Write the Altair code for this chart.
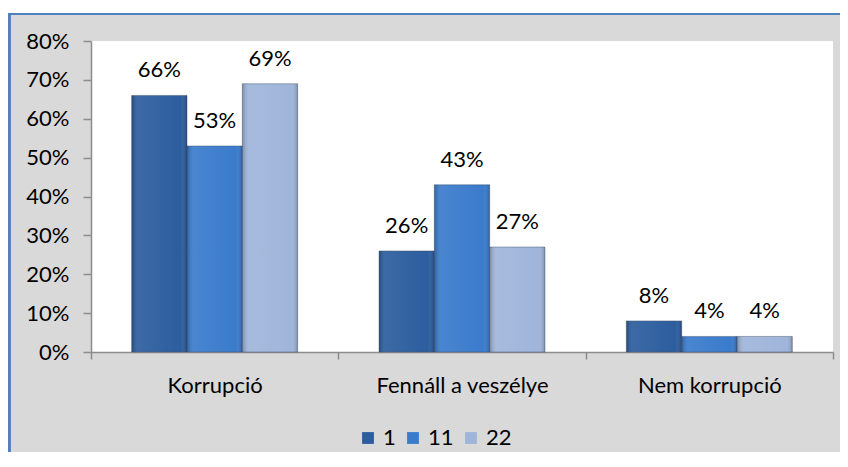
import altair as alt
import pandas as pd

categories = ["Korrupció", "Fennáll a veszélye", "Nem korrupció"]
series = ["1", "11", "22"]
values_1 = [0.66, 0.26, 0.08]
values_11 = [0.53, 0.43, 0.04]
values_22 = [0.69, 0.27, 0.04]
y_ticks = [0, 0.1, 0.2, 0.3, 0.4, 0.5, 0.6, 0.7, 0.8]
colors = ["#2c5d9e", "#3a7bcc", "#9fb5da"]

rows = []
for s, vals in zip(series, [values_1, values_11, values_22]):
    for c, v in zip(categories, vals):
        rows.append({"category": c, "series": s, "value": v})
df = pd.DataFrame(rows)

FONT = "Lato"
FS = 22

x_enc = alt.X(
    "category:N",
    sort=categories,
    scale=alt.Scale(paddingInner=0, paddingOuter=0),
    axis=alt.Axis(
        title=None, labelAngle=0, tickBand="extent", tickSize=7,
        labelPadding=16, labelFontSize=FS, labelFont=FONT, labelColor="black",
        domainColor="#8c8c8c", tickColor="#8c8c8c", domainWidth=1.5, tickWidth=1.5,
    ),
)
xo_enc = alt.XOffset("series:N", sort=series,
                     scale=alt.Scale(paddingInner=0, paddingOuter=0.736))
y_enc = alt.Y(
    "value:Q",
    scale=alt.Scale(domain=[0, 0.8], nice=False),
    axis=alt.Axis(
        title=None, format=".0%", values=y_ticks, grid=False, tickSize=8,
        labelOverlap=False, labelPadding=14, labelFontSize=FS, labelFont=FONT,
        labelColor="black",
        domainColor="#8c8c8c", tickColor="#8c8c8c", domainWidth=1.5, tickWidth=1.5,
    ),
)

base = alt.Chart(df)

bars = base.mark_bar(stroke="#3d4f6a", strokeWidth=1, strokeOpacity=0.45).encode(
    x=x_enc,
    xOffset=xo_enc,
    y=y_enc,
    color=alt.Color(
        "series:N", sort=series,
        scale=alt.Scale(domain=series, range=colors),
        legend=alt.Legend(
            title=None, orient="none", direction="horizontal",
            legendX=266, legendY=386, symbolType="square", symbolSize=140,
            symbolStrokeWidth=0, labelFontSize=FS, labelFont=FONT,
            labelColor="black", columnPadding=6, labelOffset=4, padding=0,
        ),
    ),
)

# subtle bevel shading overlay
shade = base.mark_bar(
    fill=alt.Gradient(
        gradient="linear", x1=0, x2=1, y1=0, y2=0,
        stops=[
            alt.GradientStop(color="rgba(0,0,0,0.22)", offset=0),
            alt.GradientStop(color="rgba(255,255,255,0.08)", offset=0.12),
            alt.GradientStop(color="rgba(255,255,255,0.0)", offset=0.88),
            alt.GradientStop(color="rgba(0,0,0,0.22)", offset=1),
        ],
    ),
).encode(x=x_enc, xOffset=xo_enc, y=y_enc)

labels = base.mark_text(baseline="alphabetic", dy=-18, fontSize=FS,
                        font=FONT, color="black").encode(
    x=x_enc,
    xOffset=xo_enc,
    y=y_enc,
    text=alt.Text("value:Q", format=".0%"),
)

white_top = alt.Chart(df).mark_rect(color="white").encode(
    x=alt.value(-90), x2=alt.value(760), y=alt.value(-40), y2=alt.value(-28)
)
border_top = alt.Chart(df).mark_rule(color="#4f81bd", strokeWidth=2).encode(
    x=alt.value(-83), x2=alt.value(760), y=alt.value(-27)
)
border_left = alt.Chart(df).mark_rule(color="#4f81bd", strokeWidth=2.5).encode(
    x=alt.value(-82), y=alt.value(-28), y2=alt.value(430)
)

chart = alt.layer(bars, shade, labels, white_top, border_top, border_left).properties(
    width=742, height=311,
    background="#d9d9d9",
    autosize=alt.AutoSizeParams(type="none"),
    padding={"left": 83, "top": 33, "right": 7, "bottom": 100},
).configure_view(fill="white", stroke=None)

chart.save("out.html", embed_options={"renderer": "svg", "actions": False})
